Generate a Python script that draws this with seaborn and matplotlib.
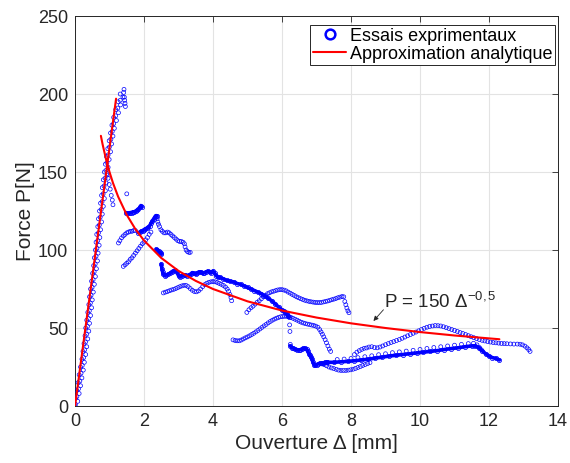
import matplotlib
matplotlib.use("Agg")
import matplotlib.pyplot as plt
import seaborn as sns
import pandas as pd
from matplotlib.lines import Line2D

# ---------------------------------------------------------------------------
# Data (Ouverture [mm], Force [N])
# ---------------------------------------------------------------------------
# loading ramp, three staggered rows of markers
ramp_left_x = [0.00, 0.01, 0.05, 0.09, 0.12, 0.16, 0.20, 0.23, 0.26, 0.29, 0.31, 0.34, 0.37, 0.40,
               0.42, 0.45, 0.48, 0.51, 0.54, 0.56, 0.59, 0.61, 0.63, 0.66, 0.68, 0.71, 0.74, 0.77,
               0.79, 0.82, 0.85, 0.88, 0.91, 0.95, 0.99, 1.03, 1.07, 1.12, 1.18, 1.25, 1.31]
ramp_left_y = [0, 5, 10, 15, 20, 25, 30, 35, 40, 45, 50, 55, 60, 65, 70, 75, 80, 85, 90, 95, 100,
               105, 110, 115, 120, 125, 130, 135, 140, 145, 150, 155, 160, 165, 170, 175, 180,
               185, 190, 195, 200]
ramp_mid_x = [0.01, 0.055, 0.10, 0.14, 0.175, 0.21, 0.25, 0.28, 0.305, 0.335, 0.36, 0.39, 0.415,
              0.445, 0.465, 0.495, 0.525, 0.555, 0.585, 0.61, 0.635, 0.66, 0.68, 0.705, 0.73, 0.76,
              0.785, 0.815, 0.84, 0.87, 0.895, 0.925, 0.96, 0.995, 1.04, 1.08, 1.12, 1.18, 1.24,
              1.31]
ramp_mid_y = [1, 6, 11, 16, 21, 26, 31, 36, 41, 46, 51, 56, 61, 66, 71, 76, 81, 86, 91, 96, 101,
              106, 111, 116, 121, 126, 131, 136, 141, 146, 151, 156, 161, 166, 171, 176, 181, 186,
              191, 196]
ramp_right_x = [0.08, 0.12, 0.16, 0.20, 0.24, 0.27, 0.31, 0.34, 0.37, 0.40, 0.42, 0.45, 0.48, 0.50,
                0.53, 0.56, 0.59, 0.62, 0.65, 0.67, 0.70, 0.72, 0.74, 0.77, 0.79, 0.82, 0.85, 0.88,
                0.90, 0.93, 0.96, 0.99, 1.03, 1.06, 1.10, 1.14, 1.20, 1.26, 1.32, 1.39, 1.42]
ramp_right_y = [3, 8, 13, 18, 23, 28, 33, 38, 43, 48, 53, 58, 63, 68, 73, 78, 83, 88, 93, 98, 103,
                108, 113, 118, 123, 128, 133, 138, 143, 148, 153, 158, 163, 168, 173, 178, 183,
                188, 193, 198, 203]

# sparse tracks
peak_x = [1.41, 1.43, 1.44, 1.45, 1.46, 1.50]
peak_y = [201, 198, 196, 194, 192, 136]
branch_x = [0.93, 0.96, 0.99, 1.02, 1.05, 1.08, 1.10]
branch_y = [149, 146, 142, 139, 135, 132, 129]
rise1_x = [1.26, 1.30, 1.35, 1.40, 1.45, 1.50, 1.55, 1.60, 1.65, 1.70, 1.75]
rise1_y = [104.5, 106, 107.8, 109, 110, 111, 111.5, 112, 112, 112.5, 112.5]
rise2_x = [1.40, 1.45, 1.50, 1.55, 1.60, 1.65, 1.70, 1.75, 1.80, 1.85, 1.90, 1.95, 2.00, 2.05,
           2.10, 2.15, 2.20]
rise2_y = [89.5, 90.5, 91.5, 92.5, 94, 95, 96.5, 98, 99.5, 101, 102.5, 104, 105, 106.5, 108,
           110, 111.5]
fall1_x = [2.38, 2.40, 2.42, 2.45, 2.49, 2.53, 2.58, 2.63, 2.68, 2.73, 2.78, 2.83, 2.88, 2.93,
           2.98, 3.03, 3.08, 3.13, 3.17, 3.19, 3.22, 3.26, 3.30, 3.34]
fall1_y = [120, 118, 116.5, 115, 113, 112, 111, 111, 111.5, 111, 110, 109, 108, 107, 106, 105.5,
           105.5, 105, 104, 102, 100, 99, 98.5, 98.5]
mid_x = [2.56, 2.62, 2.68, 2.74, 2.80, 2.86, 2.92, 2.98, 3.04, 3.10, 3.16, 3.22, 3.28, 3.34, 3.40,
         3.46, 3.52, 3.58, 3.64, 3.70, 3.76, 3.82, 3.88, 3.94, 4.00, 4.06, 4.12, 4.18, 4.24, 4.30,
         4.36, 4.41, 4.45, 4.49, 4.52, 4.54]
mid_y = [72.5, 73, 73.4, 73.9, 74.4, 74.8, 75.3, 75.9, 76.5, 77, 77.4, 77.3, 76.5, 75.3, 74.2,
         73.4, 73.2, 73.8, 75, 76.5, 77.8, 78.7, 79.3, 79.6, 79.8, 79.6, 79.2, 78.6, 78, 77.3,
         76.3, 75, 73.5, 71.5, 69.5, 67.5]
low_rise_x = [4.58, 4.64, 4.70, 4.76, 4.82, 4.88, 4.94, 5.00, 5.06, 5.12, 5.18, 5.24, 5.30, 5.36,
              5.42, 5.48, 5.54, 5.60, 5.66, 5.72, 5.78, 5.84, 5.90, 5.96, 6.02, 6.08, 6.14, 6.20,
              6.26, 6.32, 6.38, 6.44, 6.50, 6.56, 6.62, 6.68, 6.74, 6.80, 6.86, 6.92, 6.98, 7.04,
              7.09, 7.13, 7.17, 7.21, 7.25, 7.29, 7.33, 7.37, 7.41]
low_rise_y = [42.4, 42, 41.8, 41.8, 42.3, 43, 43.7, 44.3, 45, 45.8, 46.6, 47.5, 48.4, 49.4, 50.4,
              51.4, 52.3, 53.3, 54.2, 55, 55.7, 56.3, 56.8, 57.2, 57.4, 57.5, 57.5, 57.3, 56.8,
              56.2, 55.6, 55, 54.3, 53.7, 53.2, 52.8, 52.5, 52.2, 51.9, 51.6, 51.2, 50.5, 49,
              47.5, 46, 44.3, 42.5, 40.5, 38.5, 36.5, 35]
upper_x = [4.98, 5.04, 5.10, 5.16, 5.22, 5.28, 5.34, 5.40, 5.46, 5.52, 5.58, 5.64, 5.70, 5.76,
           5.82, 5.88, 5.94, 6.00, 6.06, 6.12, 6.18, 6.24, 6.30, 6.36, 6.42, 6.48, 6.54, 6.60,
           6.66, 6.72, 6.78, 6.84, 6.90, 6.96, 7.02, 7.08, 7.14, 7.20, 7.26, 7.32, 7.38, 7.44,
           7.50, 7.56, 7.62, 7.68, 7.74, 7.79, 7.82, 7.85, 7.88, 7.91, 7.94]
upper_y = [60, 61.7, 63, 64, 65.3, 66.5, 67.5, 68.7, 70, 71, 72, 72.6, 73.2, 73.6, 74, 74.4, 74.6,
           74.6, 74.3, 73.8, 73, 72.3, 71.5, 70.8, 70, 69.4, 68.8, 68.3, 67.8, 67.4, 67.1, 66.8,
           66.6, 66.4, 66.3, 66.3, 66.4, 66.7, 67, 67.3, 67.7, 68.1, 68.5, 68.9, 69.4, 69.8,
           70.2, 70, 67, 64.9, 62.8, 61, 59.8]
drop_x = [6.22, 6.23, 6.24]
drop_y = [52, 47.8, 39.5]
dip_x = [7.15, 7.22, 7.29, 7.36, 7.43, 7.50, 7.57, 7.64, 7.71, 7.78, 7.85, 7.92, 7.99, 8.06, 8.13,
         8.20, 8.27, 8.34, 8.41, 8.48, 8.55]
dip_y = [27, 26.5, 25.8, 25, 24.4, 24, 23.5, 23, 22.8, 22.8, 22.8, 23, 23.2, 23.6, 24.1, 24.7,
         25.3, 26, 26.6, 27.2, 27.8]
tail_top_x = [7.6, 7.8, 8.0, 8.2, 8.4, 8.6, 8.8, 9.0, 9.2, 9.4, 9.6, 9.8, 10.0, 10.2, 10.4, 10.6,
              10.8, 11.0, 11.2, 11.4, 11.55, 11.65, 11.72, 11.78]
tail_top_y = [29.8, 30.1, 30.5, 31, 31.6, 32.2, 32.9, 33.5, 34.2, 34.7, 35.2, 35.7, 36.3, 36.9,
              37.5, 38, 38.5, 39, 39.5, 40, 40.2, 39.2, 37.5, 36]
arc_x = [8.10, 8.17, 8.24, 8.31, 8.38, 8.45, 8.52, 8.60, 8.68, 8.76, 8.84, 8.92, 9.00, 9.08, 9.16,
         9.24, 9.32, 9.40, 9.48, 9.56, 9.64, 9.72, 9.80, 9.88, 9.96, 10.04, 10.12, 10.20, 10.28,
         10.36, 10.44, 10.52, 10.60, 10.68, 10.76, 10.84, 10.92, 11.00, 11.08, 11.16, 11.24,
         11.32, 11.40, 11.48, 11.56, 11.64, 11.72, 11.80, 11.88, 11.96, 12.04, 12.12, 12.20,
         12.28, 12.36, 12.44, 12.52, 12.62, 12.72, 12.82, 12.90, 12.97, 13.04, 13.10, 13.15, 13.19]
arc_y = [33, 34.5, 35.5, 36.3, 37, 37.2, 37.8, 38, 37.5, 37.3, 37.8, 38.5, 39.3, 40, 40.7, 41.3,
         42, 42.6, 43.4, 44.2, 45, 45.8, 46.6, 47.4, 48.2, 49, 49.8, 50.5, 51, 51.3, 51.6, 51.5,
         51.3, 50.8, 50.2, 49.6, 49, 48.4, 47.8, 47.1, 46.5, 45.8, 45.1, 44.4, 43.8, 43.2, 42.6,
         42.1, 41.7, 41.3, 41, 40.7, 40.5, 40.3, 40.1, 40, 39.9, 39.8, 39.7, 39.7, 39.6, 39.2,
         38.4, 37.3, 36.2, 35]

# dense tracks (drawn as thick bands)
band1_x = [1.48, 1.52, 1.56, 1.60, 1.64, 1.68, 1.72, 1.76, 1.80, 1.84, 1.88, 1.91, 1.93]
band1_y = [124, 123.5, 123.5, 124, 124, 124.5, 124.5, 125, 125.5, 126, 127.5, 128.5, 127.5]
band2_x = [1.84, 1.88, 1.92, 1.96, 2.00, 2.04, 2.08, 2.12, 2.16, 2.20, 2.24, 2.28, 2.31, 2.34, 2.37]
band2_y = [111, 111.5, 112, 112.5, 113, 113.5, 114, 114.5, 115.5, 117, 118.5, 120, 121, 122, 122]
blob_x = [2.36, 2.39, 2.42, 2.45, 2.48, 2.50]
blob_y = [100.5, 100, 99.5, 98.5, 98, 97.5]
band3_x = [2.50, 2.52, 2.54, 2.56, 2.60, 2.65, 2.70, 2.75, 2.80, 2.85, 2.90, 2.95, 3.00, 3.05,
           3.10, 3.15, 3.20, 3.25, 3.30, 3.35, 3.40, 3.45, 3.50, 3.55, 3.60, 3.65, 3.70, 3.75,
           3.80, 3.85, 3.90, 3.95, 4.00, 4.05, 4.10, 4.15, 4.20, 4.30, 4.40, 4.50, 4.60, 4.70,
           4.80, 4.90, 5.00, 5.10, 5.20, 5.30, 5.40, 5.50, 5.60, 5.70, 5.80, 5.90, 6.00, 6.05,
           6.10, 6.15, 6.18, 6.20]
band3_y = [91, 88, 86, 84.5, 83.5, 84, 84.5, 85, 86, 86.5, 87, 86, 83.5, 83, 83.5, 84, 84, 83.5,
           84, 84.5, 85.5, 85, 84.5, 85.5, 86, 86, 85, 85.5, 86, 86.5, 86, 85.5, 86.5, 85, 83.5,
           82.5, 82.5, 81.5, 80.5, 80, 79.5, 78.5, 78, 77, 76, 75, 74, 73, 72, 70.5, 69, 67.5,
           65.5, 63.5, 61.5, 61, 60, 59, 58, 57]
band4_x = [6.24, 6.28, 6.33, 6.38, 6.43, 6.48, 6.52, 6.57, 6.62, 6.67, 6.71, 6.75, 6.78, 6.81,
           6.84, 6.87, 6.90, 6.93, 6.96, 7.00, 7.05, 7.10, 7.15, 7.20, 7.25, 7.30]
band4_y = [38.5, 37.5, 37, 36.5, 36, 36, 36, 36.5, 37, 37, 36.5, 35, 33.5, 32.5, 31.5, 30, 28,
           26.5, 26, 26.5, 27, 27.5, 27.5, 27.5, 28, 28]
band5_x = [7.3, 7.5, 7.7, 7.9, 8.1, 8.3, 8.5, 8.7, 8.9, 9.1, 9.3, 9.5, 9.7, 9.9, 10.1, 10.3, 10.5,
           10.7, 10.9, 11.1, 11.3, 11.5, 11.6, 11.7, 11.8, 11.9, 12.0, 12.1, 12.2, 12.3]
band5_y = [28, 28, 28.3, 28.6, 29, 29.5, 30, 30.7, 31.3, 32, 32.5, 33, 33.5, 34, 34.5, 35, 35.5,
           36.2, 36.8, 37.3, 38, 38.5, 38.5, 37.5, 35.5, 33.5, 32, 31, 30.5, 29.5]

# analytic approximation: linear loading branch and P = 150 * delta^-0.5
lin_x = [0.0, 1.19]
lin_y = [0.0, 197.0]
pow_x = [0.75, 0.8, 0.9, 1.0, 1.1, 1.25, 1.5, 1.75, 2, 2.5, 3, 3.5, 4, 5, 6, 7, 8, 9, 10, 11, 12.3]
pow_y = [173.2, 167.7, 158.1, 150.0, 143.0, 134.2, 122.5, 113.4, 106.1, 94.9, 86.6, 80.2, 75.0,
         67.1, 61.2, 56.7, 53.0, 50.0, 47.4, 45.2, 42.8]

x_ticks = [0, 2, 4, 6, 8, 10, 12, 14]
y_ticks = [0, 50, 100, 150, 200, 250]

# ---------------------------------------------------------------------------
sns.set_theme(style="white")
plt.rcParams["font.family"] = ["Liberation Sans", "DejaVu Sans"]
plt.rcParams["mathtext.fontset"] = "custom"
plt.rcParams["mathtext.rm"] = "Liberation Sans"
plt.rcParams["mathtext.it"] = "Liberation Sans:italic"
plt.rcParams["mathtext.bf"] = "Liberation Sans:bold"

TXT = "#262626"
BLUE = "#0000ff"
RED = "#ff0000"

fig = plt.figure(figsize=(5.7, 4.63), dpi=100)
ax = fig.add_axes([0.1316, 0.1231, 0.8474, 0.8423])

sparse = pd.concat([
    pd.DataFrame({"x": xs, "y": ys}) for xs, ys in [
        (ramp_left_x, ramp_left_y), (ramp_mid_x, ramp_mid_y), (ramp_right_x, ramp_right_y),
        (peak_x, peak_y), (branch_x, branch_y), (rise1_x, rise1_y), (rise2_x, rise2_y),
        (fall1_x, fall1_y), (mid_x, mid_y), (low_rise_x, low_rise_y), (upper_x, upper_y),
        (drop_x, drop_y), (dip_x, dip_y), (tail_top_x, tail_top_y), (arc_x, arc_y)]
], ignore_index=True)

sns.scatterplot(data=sparse, x="x", y="y", ax=ax, marker="o", s=8,
                facecolor="none", edgecolor=BLUE, linewidth=0.5, zorder=3, legend=False)

for bx, by in [(band1_x, band1_y), (band2_x, band2_y), (blob_x, blob_y), (band3_x, band3_y),
               (band4_x, band4_y), (band5_x, band5_y)]:
    sns.lineplot(x=bx, y=by, ax=ax, sort=False, estimator=None, color=BLUE, lw=2.6,
                 marker="o", markersize=3.0, markerfacecolor="none",
                 markeredgecolor=BLUE, markeredgewidth=0.55, zorder=3)

sns.lineplot(x=lin_x, y=lin_y, ax=ax, sort=False, estimator=None, color=RED, lw=1.5, zorder=4)
sns.lineplot(x=pow_x, y=pow_y, ax=ax, sort=False, estimator=None, color=RED, lw=1.5, zorder=4)

# annotation
ax.annotate("", xy=(8.65, 54.5), xytext=(8.94, 61.7),
            arrowprops=dict(arrowstyle="-|>", color=TXT, lw=0.6, mutation_scale=7,
                            shrinkA=0, shrinkB=0))
ax.text(8.95, 63.0, "P = 150 \u0394$^{-0,5}$", fontsize=13.5, color=TXT,
        ha="left", va="baseline", zorder=5)

ax.set_xlim(0, 14)
ax.set_ylim(0, 250)
ax.set_xticks(x_ticks)
ax.set_yticks(y_ticks)
ax.set_axisbelow(True)
ax.grid(True, color="#e3e3e3", lw=0.8)
for sp in ax.spines.values():
    sp.set_color(TXT)
    sp.set_linewidth(0.7)
ax.tick_params(direction="in", length=4, width=0.6, colors=TXT, labelsize=13,
               top=True, right=True, pad=5)

ax.set_xlabel("Ouverture \u0394 [mm]", fontsize=15, color=TXT, labelpad=3)
ax.set_ylabel("Force P[N]", fontsize=15, color=TXT, labelpad=2)

handles = [
    Line2D([], [], ls="none", marker="o", markersize=7, markerfacecolor="none",
           markeredgecolor=BLUE, markeredgewidth=1.8),
    Line2D([], [], color=RED, lw=1.5),
]
leg = ax.legend(handles, ["Essais exprimentaux", "Approximation analytique"],
                loc="upper right", bbox_to_anchor=(0.9938, 0.977), borderaxespad=0,
                fontsize=13, frameon=True, fancybox=False, framealpha=1,
                edgecolor=TXT, borderpad=0.15, labelspacing=0.05,
                handlelength=1.85, handletextpad=0.2)
leg.get_frame().set_linewidth(0.7)
for t in leg.get_texts():
    t.set_color("black")

fig.savefig("out.png", dpi=100)
